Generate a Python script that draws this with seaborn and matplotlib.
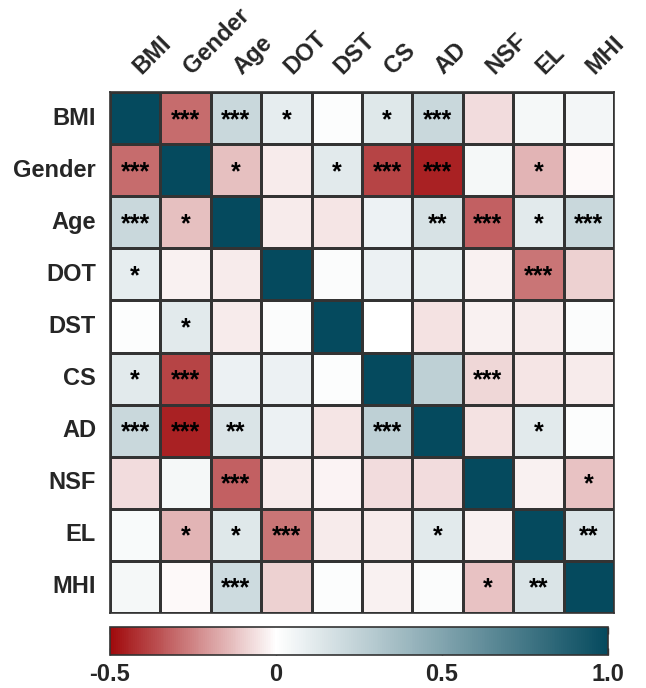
import numpy as np
import pandas as pd
import matplotlib
matplotlib.use("Agg")
import matplotlib.pyplot as plt
import matplotlib.transforms as mtransforms
import seaborn as sns
from matplotlib.colors import LinearSegmentedColormap

labels = ["BMI", "Gender", "Age", "DOT", "DST", "CS", "AD", "NSF", "EL", "MHI"]

r_bmi    = [1.00, -0.30, 0.22, 0.10, 0.01, 0.13, 0.22, -0.07, 0.04, 0.05]
r_gender = [-0.30, 1.00, -0.13, -0.04, 0.12, -0.38, -0.45, 0.04, -0.15, -0.01]
r_age    = [0.22, -0.13, 1.00, -0.04, -0.05, 0.07, 0.16, -0.32, 0.12, 0.22]
r_dot    = [0.10, -0.03, -0.04, 1.00, 0.02, 0.08, 0.09, -0.03, -0.28, -0.09]
r_dst    = [0.01, 0.12, -0.04, 0.02, 1.00, 0.00, -0.06, -0.03, -0.04, 0.02]
r_cs     = [0.12, -0.38, 0.08, 0.08, 0.01, 1.00, 0.26, -0.08, -0.05, -0.04]
r_ad     = [0.22, -0.45, 0.15, 0.08, -0.05, 0.26, 1.00, -0.06, 0.12, 0.01]
r_nsf    = [-0.07, 0.04, -0.32, -0.04, -0.02, -0.07, -0.07, 1.00, -0.03, -0.12]
r_el     = [0.03, -0.15, 0.13, -0.28, -0.04, -0.04, 0.12, -0.03, 1.00, 0.15]
r_mhi    = [0.04, -0.01, 0.20, -0.09, 0.01, -0.03, 0.02, -0.12, 0.15, 1.00]

s_bmi    = ["", "***", "***", "*", "", "*", "***", "", "", ""]
s_gender = ["***", "", "*", "", "*", "***", "***", "", "*", ""]
s_age    = ["***", "*", "", "", "", "", "**", "***", "*", "***"]
s_dot    = ["*", "", "", "", "", "", "", "", "***", ""]
s_dst    = ["", "*", "", "", "", "", "", "", "", ""]
s_cs     = ["*", "***", "", "", "", "", "", "***", "", ""]
s_ad     = ["***", "***", "**", "", "", "***", "", "", "*", ""]
s_nsf    = ["", "", "***", "", "", "", "", "", "", "*"]
s_el     = ["", "*", "*", "***", "", "", "*", "", "", "**"]
s_mhi    = ["", "", "***", "", "", "", "", "*", "**", ""]

cbar_ticks = [-0.5, 0, 0.5, 1.0]
cbar_ticklabels = ["-0.5", "0", "0.5", "1.0"]

corr = pd.DataFrame([r_bmi, r_gender, r_age, r_dot, r_dst, r_cs, r_ad, r_nsf, r_el, r_mhi],
                    index=labels, columns=labels)
stars = np.array([s_bmi, s_gender, s_age, s_dot, s_dst, s_cs, s_ad, s_nsf, s_el, s_mhi])

sns.set_style("white")
plt.rcParams['font.family'] = ['Liberation Sans', 'DejaVu Sans']
plt.rcParams['font.weight'] = 'bold'

cmap = LinearSegmentedColormap.from_list(
    "rt", [(0.0, "#a00a0c"), (1/3, "#ffffff"), (1.0, "#054a5e")])

W, H = 646, 688
fig = plt.figure(figsize=(W/100, H/100), dpi=100)
ax = fig.add_axes([110/W, 1-613/H, 504/W, 521/H])
cax = fig.add_axes([110/W, 1-655/H, 498/W, 28/H])

sns.heatmap(corr, ax=ax, cmap=cmap, vmin=-0.5, vmax=1.0, annot=False,
            linewidths=1.0, linecolor="#333333", cbar_ax=cax,
            cbar_kws={"orientation": "horizontal", "ticks": cbar_ticks})

# significance stars (baseline placed so the raised asterisks sit at cell centre)
for i in range(stars.shape[0]):
    for j in range(stars.shape[1]):
        if stars[i, j]:
            ax.text(j + 0.5, i + 0.5 + 0.17, stars[i, j], ha='center', va='baseline',
                    fontsize=18, fontweight='bold', color='black')

for sp in ax.spines.values():
    sp.set_visible(True)
    sp.set_color("#333333")
    sp.set_linewidth(1.2)

ax.xaxis.tick_top()
ax.tick_params(axis='both', length=0)
ax.tick_params(axis='x', pad=12)
ax.tick_params(axis='y', pad=10)
ax.set_xticklabels(labels, rotation=45, ha='left', va='baseline',
                   rotation_mode='anchor', fontsize=17, fontweight='bold')
ax.set_yticklabels(labels, rotation=0, fontsize=17, fontweight='bold')
off = mtransforms.ScaledTranslation(6/100, 0, fig.dpi_scale_trans)
for lab in ax.get_xticklabels():
    lab.set_transform(lab.get_transform() + off)
ax.set_xlabel("")
ax.set_ylabel("")

cb = ax.collections[0].colorbar
cb.outline.set_edgecolor("#333333")
cb.outline.set_linewidth(1.2)
cax.set_xticks(cbar_ticks)
cax.set_xticklabels(cbar_ticklabels, fontsize=17, fontweight='bold')
cax.tick_params(axis='x', direction='in', length=5, width=1, top=True, bottom=True,
                pad=6, color="#333333")

fig.savefig("out.png", dpi=100)
